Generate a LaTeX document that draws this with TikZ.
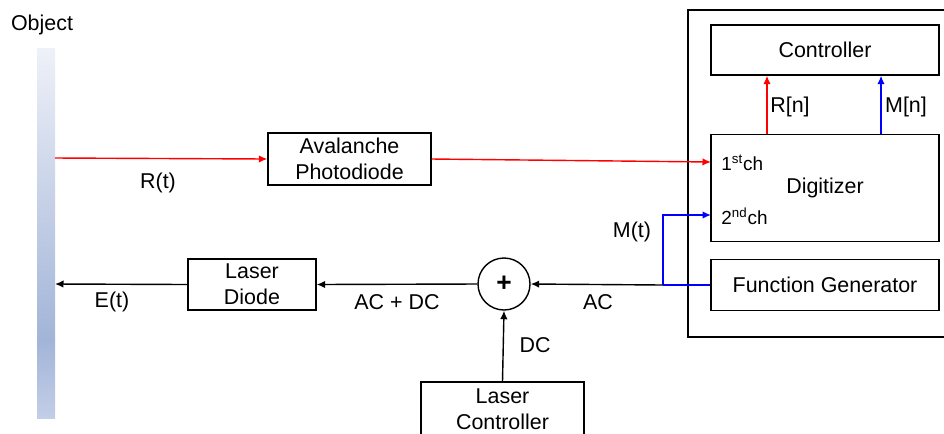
\documentclass[tikz,border=0pt]{standalone}
\usepackage{fontspec}
\setmainfont{Liberation Sans}
\usetikzlibrary{arrows.meta}
\definecolor{barlight}{HTML}{EEF1F8}
\definecolor{bardark}{HTML}{A2B4D8}
\definecolor{barlow}{HTML}{C3CEE8}
\tikzset{
    block/.style={draw, thick, align=center, inner sep=0pt},
    lbl/.style={inner sep=0pt},
    chlbl/.style={inner sep=0pt, anchor=west, font=\fontsize{10.8}{13}\selectfont},
    sig/.style={thick, -{Latex[length=1.7mm,width=1.5mm]}}
}
\begin{document}
\begin{tikzpicture}[x=0.2mm, y=-0.2mm, font=\fontsize{12.2}{14.7}\selectfont]
    \clip (0,0) rectangle (944,433);

    % Object
    \node[lbl] (obj) at (42,25) {Object};
    \shade[top color=barlight, bottom color=bardark] (37,48) rectangle (55,340);
    \shade[top color=bardark, bottom color=barlow] (37,340) rectangle (55,418);
    \coordinate (rin) at (55,158);
    \coordinate (ein) at (55,284);

    % Instruments box
    \draw[thick] (688,10) rectangle (970,337);
    \node[block, minimum width=228*0.2mm, minimum height=50*0.2mm] (ctrl) at (825,50) {Controller};
    \node[block, minimum width=228*0.2mm, minimum height=107*0.2mm] (dig) at (825,188) {Digitizer};
    \node[block, minimum width=228*0.2mm, minimum height=51*0.2mm] (fg) at (825,285) {Function Generator};
    \node[chlbl] (ch1) at (721,163) {1\textsuperscript{st}ch};
    \node[chlbl] (ch2) at (721,216) {2\textsuperscript{nd}ch};
    \coordinate (ch1in) at (711,162);
    \coordinate (ch2in) at (711,215);

    % Other blocks
    \node[block, minimum width=163*0.2mm, minimum height=52*0.2mm] (apd) at (349.5,159) {Avalanche\\Photodiode};
    \node[block, minimum width=128*0.2mm, minimum height=51*0.2mm] (ld) at (252,284.5) {Laser\\Diode};
    \node[block, minimum width=163*0.2mm, minimum height=54*0.2mm] (lc) at (502.5,409) {Laser\\Controller};
    \node[draw, thick, circle, minimum size=52*0.2mm, inner sep=0pt, font=\fontsize{15}{15}\selectfont\bfseries] (sum) at (504,284) {+};

    % Receive path
    \draw[sig, red] (rin) -- (apd.west);
    \draw[sig, red] (apd.east) -- (ch1in);
    \draw[sig, red] (dig.north -| 767,0) -- (ctrl.south -| 767,0);
    \draw[sig, blue] (dig.north -| 881,0) -- (ctrl.south -| 881,0);
    \node[lbl] (rt) at (158,183) {R(t)};
    \node[lbl] (rn) at (790,107) {R[n]};
    \node[lbl] (mn) at (906,107) {M[n]};

    % Transmit path
    \coordinate (split) at (663,285);
    \draw[thick, blue] (fg.west) -- (split);
    \draw[sig, blue] (split) |- (ch2in);
    \draw[sig] (split) -- (sum.east);
    \draw[sig] (lc.north) -- (sum.south);
    \draw[sig] (sum.west) -- (ld.east);
    \draw[sig] (ld.west) -- (ein);
    \node[lbl] (mt) at (632,232) {M(t)};
    \node[lbl] (ac) at (598,302) {AC};
    \node[lbl] (dc) at (535,345) {DC};
    \node[lbl] (acdc) at (397,302) {AC + DC};
    \node[lbl] (et) at (112,302) {E(t)};
\end{tikzpicture}
\end{document}
